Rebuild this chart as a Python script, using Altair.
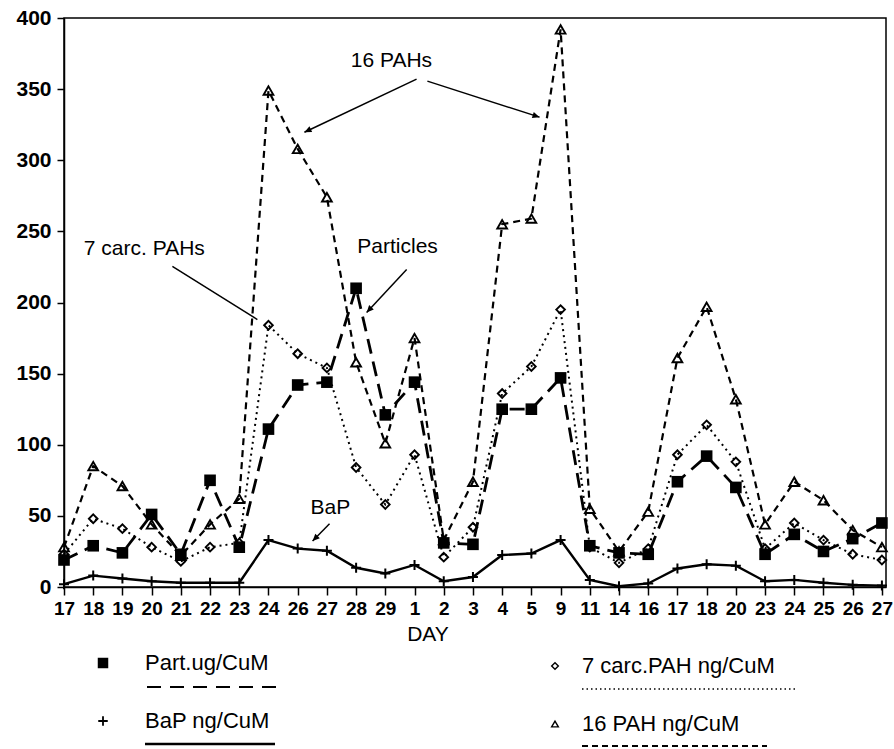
import math
import altair as alt
import pandas as pd

# ---------------- data ----------------
days = ["17", "18", "19", "20", "21", "22", "23", "24", "26", "27", "28", "29", "1", "2",
        "3", "4", "5", "9", "11", "14", "16", "17", "18", "20", "23", "24", "25", "26", "27"]
part = [19, 29, 24, 51, 23, 75, 28, 111, 142, 144, 210, 121, 144, 31,
        30, 125, 125, 147, 29, 24, 23, 74, 92, 70, 23, 37, 25, 34, 45]
carc7 = [23, 48, 41, 28, 18, 28, 31, 184, 164, 154, 84, 58, 93, 21,
         42, 136, 155, 195, 28, 17, 27, 93, 114, 88, 27, 45, 33, 23, 19]
pah16 = [28, 85, 71, 44, 22, 44, 62, 349, 308, 274, 158, 101, 175, 33,
         74, 255, 259, 392, 55, 25, 53, 161, 197, 132, 44, 74, 61, 40, 28]
bap = [2, 8, 6, 4, 3, 3, 3, 33, 27, 25.5, 13.5, 9.5, 15.5, 4,
       7, 22.5, 23.5, 33, 5, 0.5, 2.5, 13, 16, 15, 4, 5, 3, 1.5, 1]

idx = list(range(len(days)))
df = pd.DataFrame({"i": idx, "day": days, "part": part, "carc7": carc7,
                   "pah16": pah16, "bap": bap})

# annotations (data coordinates)
ann_text = ["16 PAHs", "7 carc. PAHs", "Particles", "BaP"]
ann_tx = [11.21, 2.75, 11.42, 9.12]
ann_ty = [369.7, 237.3, 238.7, 55.6]
arr_x1 = [12.07, 12.44, 3.71, 11.73, 9.09]
arr_y1 = [357.0, 355.6, 225.4, 223.2, 44.4]
arr_x2 = [8.23, 16.28, 6.62, 10.36, 8.51]
arr_y2 = [319.7, 330.3, 188.0, 193.0, 32.4]
arr_head = [True, True, False, True, True]

# ---------------- layout ----------------
W, H = 822, 569
XMAX = 28.14
PADL, PADT = 64, 18
FONT = "Liberation Sans"

xs = alt.Scale(domain=[0, XMAX], nice=False, zero=False)
ys = alt.Scale(domain=[0, 400], nice=False)

label_expr = "[" + ",".join("'%s'" % d for d in days) + "][datum.value]"

xaxis = alt.Axis(values=idx, labelExpr=label_expr, title=None, grid=False,
                 domainColor="black", domainWidth=1.5, tickColor="black",
                 tickSize=8, tickWidth=1.5, labelFont=FONT, labelFontSize=19,
                 labelFontWeight="bold", labelColor="black", labelPadding=4,
                 labelOverlap=False, labelFlush=False, labelBound=False)
yaxis = alt.Axis(values=list(range(0, 401, 50)), title=None, grid=False,
                 domainColor="black", domainWidth=1.5, tickColor="black",
                 tickSize=7, tickWidth=1.5, labelFont=FONT, labelFontSize=21,
                 labelFontWeight="bold", labelColor="black", labelPadding=6,
                 labelFlush=False)


def X(field):
    return alt.X(field, scale=xs, axis=xaxis)


def Y(field):
    return alt.Y(field, scale=ys, axis=yaxis)


base = alt.Chart(df)


def line(col, dash, width):
    kw = dict(color="black", strokeWidth=width)
    if dash:
        kw["strokeDash"] = dash
    return base.mark_line(**kw).encode(x=X("i:Q"), y=Y(col + ":Q"))


def pts(col, shape, size, filled, sw=1.5):
    return base.mark_point(shape=shape, size=size, filled=filled, color="black",
                           strokeWidth=sw, opacity=1).encode(x=X("i:Q"), y=Y(col + ":Q"))


PLUS = "M-1,0L1,0M0,-1L0,1"
ARROW = "M0,0L-0.45,1L0.45,1Z"

layers = [
    line("bap", None, 2.4),
    line("carc7", [2, 4], 2.0),
    line("pah16", [7, 5], 2.2),
    line("part", [15, 8], 2.8),
    pts("bap", PLUS, 100, False, 2.0),
    pts("carc7", "diamond", 75, False, 1.9),
    pts("pah16", "triangle-up", 95, False, 1.9),
    pts("part", "square", 135, True),
]

# annotation text
tdf = pd.DataFrame({"x": ann_tx, "y": ann_ty, "t": ann_text})
layers.append(alt.Chart(tdf).mark_text(font=FONT, fontSize=21, color="black",
                                       align="center", baseline="middle").encode(
    x=X("x:Q"), y=Y("y:Q"), text="t:N"))

# arrows
angles = []
for a, b, c, d in zip(arr_x1, arr_y1, arr_x2, arr_y2):
    dx = (c - a) * W / XMAX
    dy = -(d - b) * H / 400
    angles.append((math.degrees(math.atan2(dx, -dy)) + 360) % 360)
adf = pd.DataFrame({"x1": arr_x1, "y1": arr_y1, "x2": arr_x2, "y2": arr_y2,
                    "ang": angles, "head": arr_head})
layers.append(alt.Chart(adf).mark_rule(color="black", strokeWidth=1.5).encode(
    x=X("x1:Q"), y=Y("y1:Q"), x2="x2:Q", y2="y2:Q"))
layers.append(alt.Chart(adf[adf["head"]]).mark_point(shape=ARROW, size=200, filled=True,
                                                      color="black", opacity=1).encode(
    x=X("x2:Q"), y=Y("y2:Q"), angle=alt.Angle("ang:Q", scale=None)))

# ---------------- legend (pixel layout below the plot) ----------------
one = alt.Data(values=[{}])


def px(v):
    return v - PADL


def py(v):
    return v - PADT


def ltext(s, x, y, align="left", size=22):
    return alt.Chart(one).mark_text(text=s, font=FONT, fontSize=size, color="black",
                                    align=align, baseline="middle").encode(
        x=alt.value(px(x)), y=alt.value(py(y)))


def lmark(shape, x, y, size, filled, sw=1.5):
    return alt.Chart(one).mark_point(shape=shape, size=size, filled=filled, color="black",
                                     strokeWidth=sw, opacity=1).encode(
        x=alt.value(px(x)), y=alt.value(py(y)))


def lrule(x1, x2, y, dash, width):
    kw = dict(color="black", strokeWidth=width)
    if dash:
        kw["strokeDash"] = dash
    return alt.Chart(one).mark_rule(**kw).encode(
        x=alt.value(px(x1)), x2=alt.value(px(x2)), y=alt.value(py(y)))


leg_labels = ["Part.ug/CuM", "BaP ng/CuM", "7 carc.PAH ng/CuM", "16 PAH ng/CuM"]

layers += [
    ltext("DAY", 428, 635, align="center", size=21),
    lmark("square", 103, 663, 110, True),
    ltext(leg_labels[0], 145, 663),
    lrule(147, 283, 687, [14, 9], 2.2),
    lmark(PLUS, 103, 721, 90, False, 1.8),
    ltext(leg_labels[1], 145, 721),
    lrule(145, 275, 744, None, 2.6),
    lmark("diamond", 555, 666, 45, False, 1.4),
    ltext(leg_labels[2], 582, 666),
    lrule(582, 797, 689, [1.5, 3], 1.6),
    lmark("triangle-up", 555, 724, 45, False, 1.4),
    ltext(leg_labels[3], 582, 724),
    lrule(582, 767, 746, [6, 4], 2.0),
]

chart = alt.layer(*layers).properties(
    width=W, height=H,
    autosize=alt.AutoSizeParams(type="none"),
    padding={"left": PADL, "top": PADT, "right": 894 - PADL - W, "bottom": 749 - PADT - H},
    background="white",
).configure_view(stroke="black", strokeWidth=1.5)

chart.save("out.html", embed_options={"renderer": "svg", "actions": False})
